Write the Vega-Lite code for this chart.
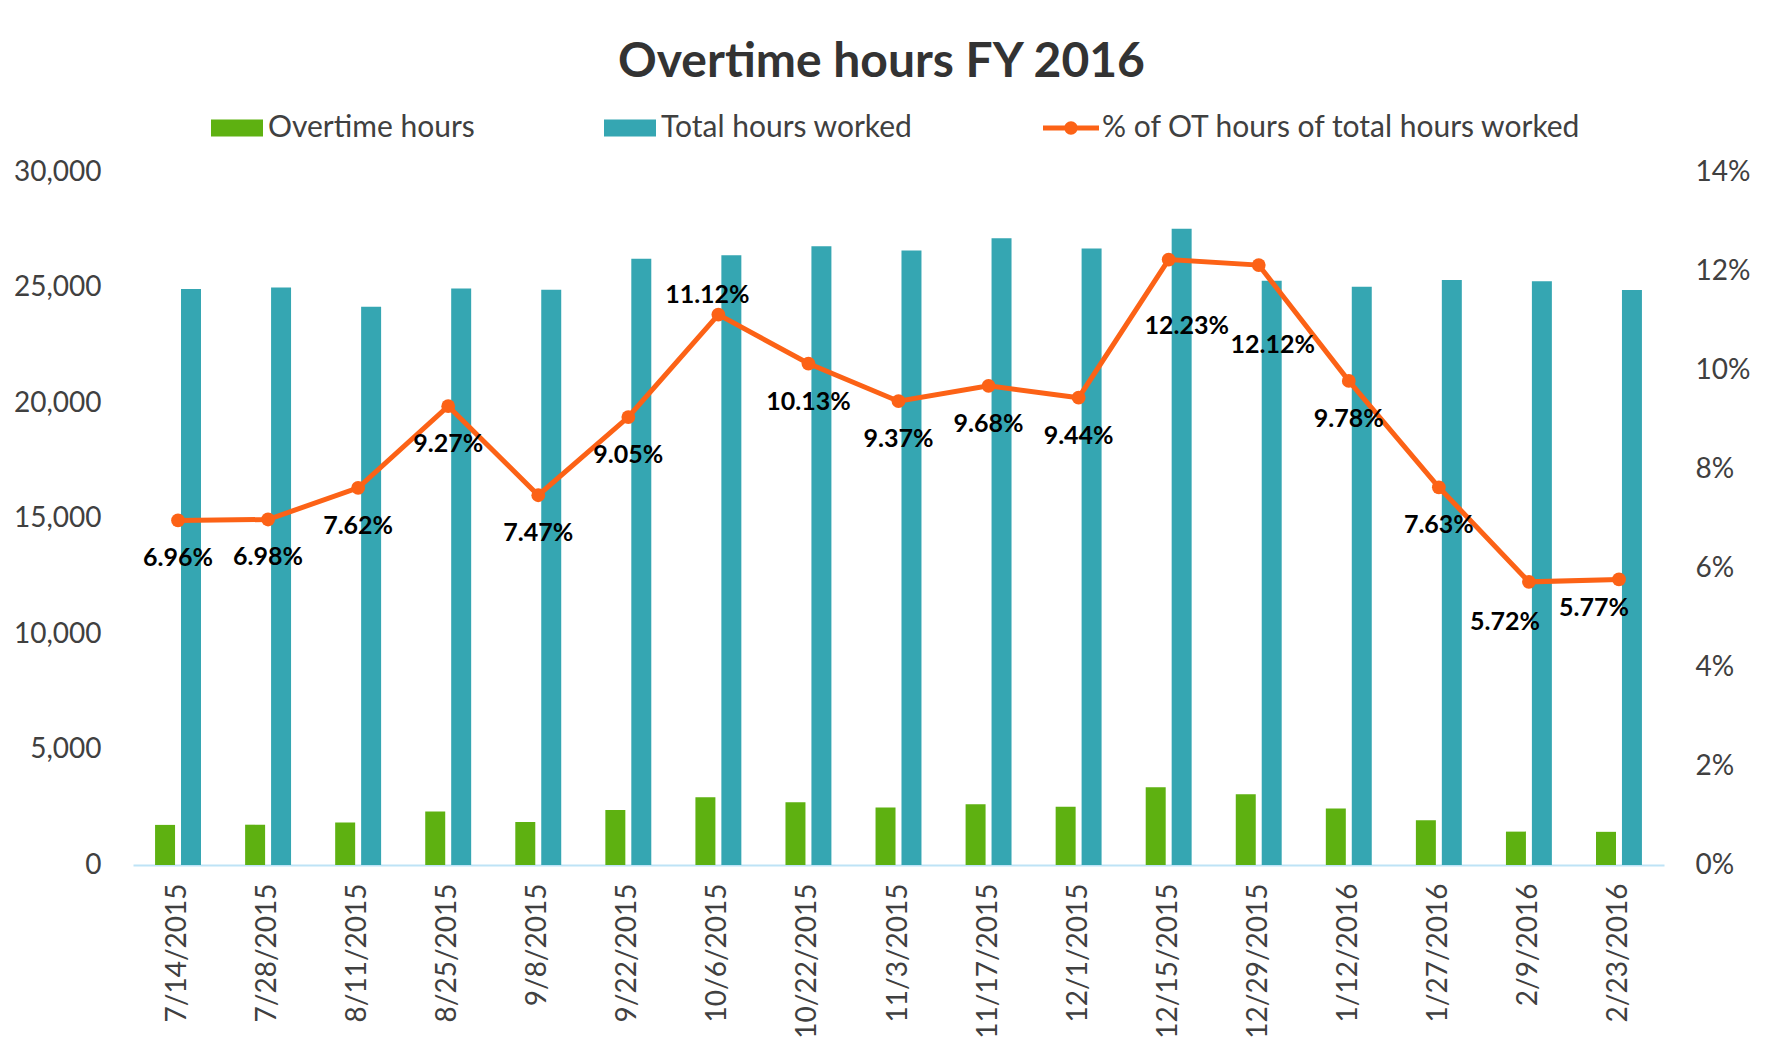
{
  "$schema": "https://vega.github.io/schema/vega-lite/v6.json",
  "width": 1531,
  "height": 693,
  "autosize": {"type": "none"},
  "padding": {"left": 133, "top": 172, "right": 104, "bottom": 177},
  "background": "white",
  "config": {"view": {"stroke": null}, "font": "Lato"},
  "title": {
    "text": "Overtime hours FY 2016",
    "font": "Lato",
    "fontSize": 48,
    "fontWeight": "bold",
    "color": "#333333",
    "anchor": "middle",
    "frame": "group",
    "dx": -17,
    "offset": 13
  },
  "data": {
    "values": [
      {"date": "7/14/2015", "Overtime hours": 1736, "Total hours worked": 24940, "pct": 0.0696},
      {"date": "7/28/2015", "Overtime hours": 1745, "Total hours worked": 25000, "pct": 0.0698},
      {"date": "8/11/2015", "Overtime hours": 1842, "Total hours worked": 24170, "pct": 0.0762},
      {"date": "8/25/2015", "Overtime hours": 2314, "Total hours worked": 24960, "pct": 0.0927},
      {"date": "9/8/2015", "Overtime hours": 1860, "Total hours worked": 24900, "pct": 0.0747},
      {"date": "9/22/2015", "Overtime hours": 2376, "Total hours worked": 26250, "pct": 0.0905},
      {"date": "10/6/2015", "Overtime hours": 2936, "Total hours worked": 26400, "pct": 0.1112},
      {"date": "10/22/2015", "Overtime hours": 2714, "Total hours worked": 26790, "pct": 0.1013},
      {"date": "11/3/2015", "Overtime hours": 2492, "Total hours worked": 26600, "pct": 0.0937},
      {"date": "11/17/2015", "Overtime hours": 2626, "Total hours worked": 27130, "pct": 0.0968},
      {"date": "12/1/2015", "Overtime hours": 2520, "Total hours worked": 26690, "pct": 0.0944},
      {"date": "12/15/2015", "Overtime hours": 3368, "Total hours worked": 27540, "pct": 0.1223},
      {"date": "12/29/2015", "Overtime hours": 3065, "Total hours worked": 25290, "pct": 0.1212},
      {"date": "1/12/2016", "Overtime hours": 2448, "Total hours worked": 25030, "pct": 0.0978},
      {"date": "1/27/2016", "Overtime hours": 1933, "Total hours worked": 25330, "pct": 0.0763},
      {"date": "2/9/2016", "Overtime hours": 1445, "Total hours worked": 25270, "pct": 0.0572},
      {"date": "2/23/2016", "Overtime hours": 1436, "Total hours worked": 24890, "pct": 0.0577}
    ]
  },
  "encoding": {
    "x": {
      "field": "date",
      "type": "nominal",
      "sort": null,
      "scale": {"paddingInner": 0.49, "paddingOuter": 0.245},
      "axis": {
        "title": null,
        "labelAngle": 270,
        "labelFont": "Lato",
        "labelFontSize": 28,
        "labelColor": "#404040",
        "labelPadding": 18,
        "ticks": false,
        "domainColor": "#BEE3F6",
        "domainWidth": 2,
        "grid": false
      }
    }
  },
  "layer": [
    {
      "transform": [{"fold": ["Overtime hours", "Total hours worked"], "as": ["series", "value"]}],
      "mark": {"type": "bar"},
      "encoding": {
        "xOffset": {"field": "series", "type": "nominal", "scale": {"paddingInner": 0.23}},
        "y": {
          "field": "value",
          "type": "quantitative",
          "scale": {"domain": [0, 30000], "nice": false},
          "axis": {
            "title": null,
            "orient": "left",
            "values": [0, 5000, 10000, 15000, 20000, 25000, 30000],
            "format": ",.0f",
            "labelFont": "Lato",
            "labelFontSize": 28,
            "labelColor": "#404040",
            "labelPadding": 32,
            "ticks": false,
            "domain": false,
            "grid": false
          }
        },
        "color": {
          "field": "series",
          "type": "nominal",
          "scale": {"domain": ["Overtime hours", "Total hours worked"], "range": ["#5EB111", "#35A6B2"]},
          "legend": {
            "title": null,
            "orient": "none",
            "legendX": 78,
            "legendY": -70,
            "direction": "horizontal",
            "columnPadding": 129,
            "padding": 0,
            "symbolType": "M-1,-0.33H1V0.33H-1Z",
            "symbolSize": 2704,
            "symbolStrokeWidth": 0,
            "symbolOpacity": 1,
            "labelFont": "Lato",
            "labelFontSize": 30,
            "labelColor": "#404040",
            "labelOffset": 5,
            "labelLimit": 400
          }
        }
      }
    },
    {
      "layer": [
        {
          "mark": {"type": "line", "color": "#FC6216", "strokeWidth": 5, "point": {"filled": true, "size": 190}},
          "encoding": {
            "y": {
              "field": "pct",
              "type": "quantitative",
              "scale": {"domain": [0, 0.14], "nice": false},
              "axis": {
                "title": null,
                "orient": "right",
                "values": [0, 0.02, 0.04, 0.06, 0.08, 0.1, 0.12, 0.14],
                "format": ".0%",
                "labelFont": "Lato",
                "labelFontSize": 28,
                "labelColor": "#404040",
                "labelPadding": 31,
                "ticks": false,
                "domain": false,
                "grid": false
              }
            },
            "color": {
              "datum": "% of OT hours of total hours worked",
              "scale": {"range": ["#FC6216"]},
              "legend": {
                "title": null,
                "orient": "none",
                "legendX": 910,
                "legendY": -72,
                "padding": 0,
                "symbolType": "M-1,-0.09H1V0.09H-1Z M-0.24,0 A0.24,0.24 0 1,1 0.24,0 A0.24,0.24 0 1,1 -0.24,0 Z",
                "symbolSize": 3136,
                "symbolFillColor": "#FC6216",
                "symbolStrokeWidth": 0,
                "labelFont": "Lato",
                "labelFontSize": 30,
                "labelColor": "#404040",
                "labelOffset": 3,
                "labelLimit": 500,
                "encode": {"symbols": {"update": {"fill": {"value": "#FC6216"}, "stroke": {"value": "transparent"}, "strokeWidth": {"value": 0}}}}
              }
            }
          }
        },
        {
          "transform": [{"filter": {"not": {"field": "date", "oneOf": ["10/6/2015", "12/15/2015", "12/29/2015", "2/9/2016", "2/23/2016"]}}}],
          "mark": {"type": "text", "font": "Lato", "fontWeight": "bold", "fontSize": 25, "color": "black", "dy": 38, "baseline": "middle"},
          "encoding": {"y": {"field": "pct", "type": "quantitative", "scale": {"domain": [0, 0.14], "nice": false}}, "text": {"field": "pct", "type": "quantitative", "format": ".2%"}}
        },
        {
          "transform": [{"filter": {"field": "date", "equal": "10/6/2015"}}],
          "mark": {"type": "text", "font": "Lato", "fontWeight": "bold", "fontSize": 25, "color": "black", "dx": -11, "dy": -20, "baseline": "middle"},
          "encoding": {"y": {"field": "pct", "type": "quantitative", "scale": {"domain": [0, 0.14], "nice": false}}, "text": {"field": "pct", "type": "quantitative", "format": ".2%"}}
        },
        {
          "transform": [{"filter": {"field": "date", "equal": "12/15/2015"}}],
          "mark": {"type": "text", "font": "Lato", "fontWeight": "bold", "fontSize": 25, "color": "black", "dx": 18, "dy": 66, "baseline": "middle"},
          "encoding": {"y": {"field": "pct", "type": "quantitative", "scale": {"domain": [0, 0.14], "nice": false}}, "text": {"field": "pct", "type": "quantitative", "format": ".2%"}}
        },
        {
          "transform": [{"filter": {"field": "date", "equal": "12/29/2015"}}],
          "mark": {"type": "text", "font": "Lato", "fontWeight": "bold", "fontSize": 25, "color": "black", "dx": 14, "dy": 80, "baseline": "middle"},
          "encoding": {"y": {"field": "pct", "type": "quantitative", "scale": {"domain": [0, 0.14], "nice": false}}, "text": {"field": "pct", "type": "quantitative", "format": ".2%"}}
        },
        {
          "transform": [{"filter": {"field": "date", "equal": "2/9/2016"}}],
          "mark": {"type": "text", "font": "Lato", "fontWeight": "bold", "fontSize": 25, "color": "black", "dx": -24, "dy": 40, "baseline": "middle"},
          "encoding": {"y": {"field": "pct", "type": "quantitative", "scale": {"domain": [0, 0.14], "nice": false}}, "text": {"field": "pct", "type": "quantitative", "format": ".2%"}}
        },
        {
          "transform": [{"filter": {"field": "date", "equal": "2/23/2016"}}],
          "mark": {"type": "text", "font": "Lato", "fontWeight": "bold", "fontSize": 25, "color": "black", "dx": -25, "dy": 29, "baseline": "middle"},
          "encoding": {"y": {"field": "pct", "type": "quantitative", "scale": {"domain": [0, 0.14], "nice": false}}, "text": {"field": "pct", "type": "quantitative", "format": ".2%"}}
        }
      ]
    }
  ],
  "resolve": {"scale": {"y": "independent", "color": "independent"}}
}
